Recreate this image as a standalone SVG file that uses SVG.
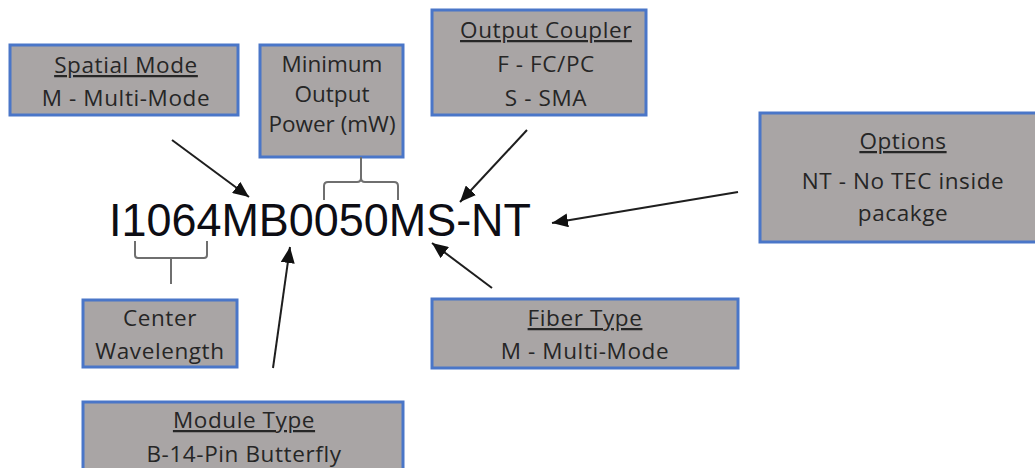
<svg xmlns="http://www.w3.org/2000/svg" width="1035" height="468" viewBox="0 0 1035 468">
<defs>
<style>
.box{fill:#a9a5a5;stroke:#4a76c8;stroke-width:3}
.t{font-family:"Open Sans","Liberation Sans",sans-serif;font-size:22.5px;fill:#262626;text-anchor:middle}
.h{text-decoration:underline}
.c{stroke:#1e1e1e;stroke-width:2;fill:none}
.br{stroke:#6f6f6f;stroke-width:2;fill:none}
</style>
<marker id="ah" markerUnits="userSpaceOnUse" markerWidth="18" markerHeight="14" refX="16" refY="7" orient="auto">
<path d="M0,0 L16,7 L0,14 Z" fill="#111"/>
</marker>
</defs>
<rect width="1035" height="468" fill="#ffffff"/>

<g id="spatial-mode">
<rect class="box" x="10" y="45" width="228" height="70"/>
<text class="t h" x="126" y="73" letter-spacing="0.6">Spatial Mode</text>
<text class="t" x="126" y="106" letter-spacing="0.6">M - Multi-Mode</text>
</g>

<g id="min-output-power">
<rect class="box" x="260" y="45" width="143" height="112"/>
<text class="t" x="332" y="72" font-size="19">Minimum</text>
<text class="t" x="332" y="102" font-size="19">Output</text>
<text class="t" x="332" y="132" font-size="19">Power (mW)</text>
</g>

<g id="output-coupler">
<rect class="box" x="432" y="10" width="214" height="105"/>
<text class="t h" x="546" y="38" letter-spacing="0.6">Output Coupler</text>
<text class="t" x="546" y="72" letter-spacing="0.6">F - FC/PC</text>
<text class="t" x="546" y="106" letter-spacing="0.6">S - SMA</text>
</g>

<g id="options">
<rect class="box" x="760" y="113" width="290" height="129"/>
<text class="t h" x="903" y="149" letter-spacing="0.6">Options</text>
<text class="t" x="903" y="189" letter-spacing="0.6">NT - No TEC inside</text>
<text class="t" x="903" y="221" letter-spacing="0.6">pacakge</text>
</g>

<g id="center-wavelength">
<rect class="box" x="83" y="300" width="154" height="67"/>
<text class="t" x="160" y="326" letter-spacing="0.6">Center</text>
<text class="t" x="160" y="359" letter-spacing="0.6">Wavelength</text>
</g>

<g id="fiber-type">
<rect class="box" x="432" y="299" width="306" height="69"/>
<text class="t h" x="585" y="326" letter-spacing="0.6">Fiber Type</text>
<text class="t" x="585" y="359" letter-spacing="0.6">M - Multi-Mode</text>
</g>

<g id="module-type">
<rect class="box" x="83" y="402" width="320" height="80"/>
<text class="t h" x="244" y="428" letter-spacing="0.6">Module Type</text>
<text class="t" x="244" y="462" letter-spacing="0.6">B-14-Pin Butterfly</text>
</g>

<g id="part-number">
<text x="109" y="236" font-family="Liberation Sans, Arial, sans-serif" font-size="46" fill="#0d0d14" textLength="422" lengthAdjust="spacingAndGlyphs">I1064MB0050MS-NT</text>
</g>

<g id="connectors">
<path class="br" d="M135,241 L135,255 Q135,258 138,258 L204,258 Q207,258 207,255 L207,241"/>
<path class="br" d="M171,258 L171,284" stroke-width="3"/>
<path class="br" d="M361,157 L361,178 Q361,182 357,182 L328,182 Q324,182 324,186 L324,200"/>
<path class="br" d="M361,178 Q361,182 365,182 L394,182 Q398,182 398,186 L398,200"/>
<line class="c" x1="172" y1="140" x2="249" y2="197" marker-end="url(#ah)"/>
<line class="c" x1="527" y1="130" x2="460" y2="202" marker-end="url(#ah)"/>
<line class="c" x1="738" y1="192" x2="552" y2="223" marker-end="url(#ah)"/>
<line class="c" x1="492" y1="288" x2="432" y2="243" marker-end="url(#ah)"/>
<line class="c" x1="273" y1="368" x2="290" y2="247" marker-end="url(#ah)"/>
</g>
</svg>
